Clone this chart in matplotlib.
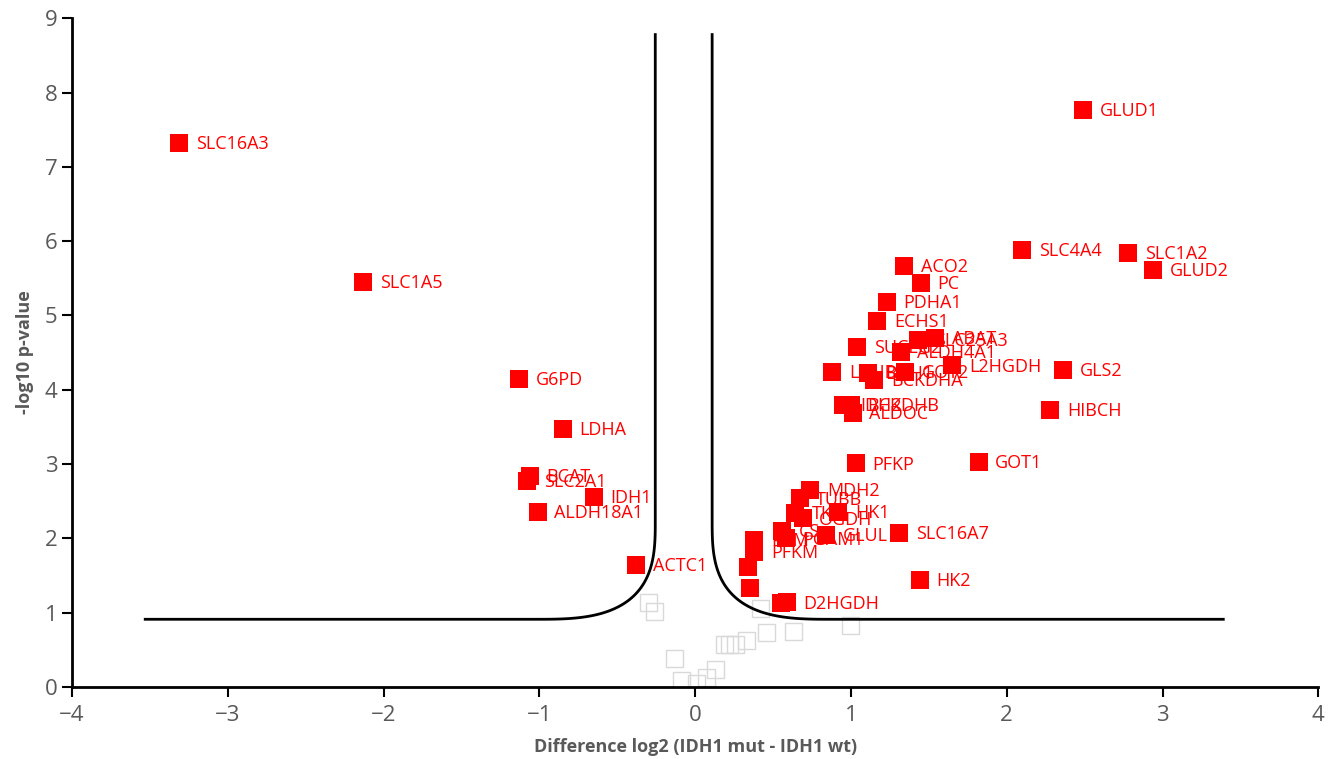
import numpy as np
import matplotlib
matplotlib.use('Agg')
import matplotlib.pyplot as plt

# ── significant proteins (red) ──
genes = ['SLC16A3', 'SLC1A5', 'G6PD', 'LDHA', 'BCAT', 'SLC2A1', 'IDH1', 'ALDH18A1',
         'ACTC1', 'GLUD1', 'SLC4A4', 'SLC1A2', 'GLUD2', 'ACO2', 'PC', 'PDHA1',
         'ECHS1', 'ABAT', 'SLC25A3', 'ALDH4A1', 'SUCLG2', 'L2HGDH', 'GLS2', 'LDHB',
         'BDH1', 'BCKDHA', 'GOT2', 'HIBCH', 'IDH2', 'BCKDHB', 'ALDOC', 'PFKP',
         'GOT1', 'MDH2', 'TUBB', 'TKT', 'OGDH', 'HK1', 'CS', 'PGAM1', 'GLUL',
         'SLC16A7', 'PKM', 'PFKM', '', '', 'D2HGDH', '', 'HK2']
log2_diff = [-3.31, -2.13, -1.13, -0.85, -1.06, -1.08, -0.65, -1.01,
             -0.38, 2.49, 2.10, 2.78, 2.94, 1.34, 1.45, 1.23,
             1.17, 1.54, 1.43, 1.32, 1.04, 1.65, 2.36, 0.88,
             1.11, 1.15, 1.35, 2.28, 0.95, 1.00, 1.01, 1.03,
             1.82, 0.74, 0.67, 0.64, 0.69, 0.92, 0.56, 0.58, 0.84,
             1.31, 0.38, 0.38, 0.34, 0.35, 0.59, 0.55, 1.44]
neg_log10_p = [7.32, 5.45, 4.15, 3.47, 2.84, 2.77, 2.56, 2.36,
               1.64, 7.77, 5.88, 5.84, 5.61, 5.67, 5.44, 5.18,
               4.93, 4.70, 4.67, 4.51, 4.58, 4.33, 4.27, 4.24,
               4.23, 4.13, 4.24, 3.73, 3.80, 3.80, 3.69, 3.01,
               3.03, 2.65, 2.54, 2.34, 2.27, 2.36, 2.10, 2.00, 2.05,
               2.07, 1.98, 1.82, 1.62, 1.33, 1.14, 1.13, 1.44]

# ── non-significant proteins (grey, hollow) ──
ns_log2_diff = [-0.30, -0.26, -0.13, -0.09, 0.01, 0.07, 0.13, 0.19,
                0.22, 0.26, 0.33, 0.46, 0.63, 1.00, 0.42]
ns_neg_log10_p = [1.13, 1.02, 0.38, 0.09, 0.05, 0.13, 0.23, 0.57,
                  0.57, 0.57, 0.63, 0.73, 0.74, 0.83, 1.06]

# ── cut-off curve (estimated) ──
CUT_Y = 0.91          # horizontal asymptote
CUT_LEFT_X = -0.256   # left vertical
CUT_RIGHT_X = 0.109   # right vertical
CUT_TOP = 8.78
CUT_X_MIN, CUT_X_MAX = -3.53, 3.39
CORNER_W, CORNER_TOP = 0.77, 2.25


def cutoff_branch(x_vert, x_end, side):
    t = np.linspace(0, np.pi / 2, 80)
    n = 3.0
    u = np.cos(t) ** (2 / n)
    v = np.sin(t) ** (2 / n)
    cx = x_vert - side * CORNER_W
    h = CORNER_TOP - CUT_Y
    xs = cx + side * CORNER_W * u
    ys = CORNER_TOP - h * v
    xs = np.concatenate([[x_vert], xs, [x_end]])
    ys = np.concatenate([[CUT_TOP], ys, [CUT_Y]])
    return xs, ys


GREY = '#595959'
plt.rcParams['font.family'] = ['Open Sans', 'DejaVu Sans']

fig = plt.figure(figsize=(13.33, 7.59), dpi=100)
ax = fig.add_axes([0.054, 0.095, 0.935, 0.881])

for side, xv, xe in [(1, CUT_LEFT_X, CUT_X_MIN), (-1, CUT_RIGHT_X, CUT_X_MAX)]:
    xs, ys = cutoff_branch(xv, xe, side)
    ax.plot(xs, ys, color='black', lw=2.0, zorder=2)

ax.scatter(ns_log2_diff, ns_neg_log10_p, marker='s', s=150, facecolors='none',
           edgecolors='#d9d9d9', linewidths=1.0, zorder=1)
ax.scatter(log2_diff, neg_log10_p, marker='s', s=150, color='#ff0000',
           linewidths=0, zorder=3)
for g, x, y in zip(genes, log2_diff, neg_log10_p):
    if g:
        ax.annotate(g, (x, y), xytext=(12, -1), textcoords='offset points',
                    ha='left', va='center', fontsize=13, color='#ff0000', zorder=4)

ax.set_xlim(-4, 4)
ax.set_ylim(0, 9)
ax.set_xticks(range(-4, 5))
ax.set_yticks(range(0, 10))
ax.spines['top'].set_visible(False)
ax.spines['right'].set_visible(False)
ax.spines['left'].set_linewidth(2)
ax.spines['bottom'].set_linewidth(2)
ax.tick_params(axis='both', direction='out', length=7, width=1.5,
               labelsize=16, labelcolor=GREY)
ax.tick_params(axis='x', pad=6)
ax.set_xlabel('Difference log2 (IDH1 mut - IDH1 wt)', fontsize=13,
              fontweight='bold', color=GREY, labelpad=9)
ax.set_ylabel('-log10 p-value', fontsize=13, fontweight='bold', color=GREY,
              labelpad=8)

fig.savefig('out.png', dpi=100, facecolor='white')
